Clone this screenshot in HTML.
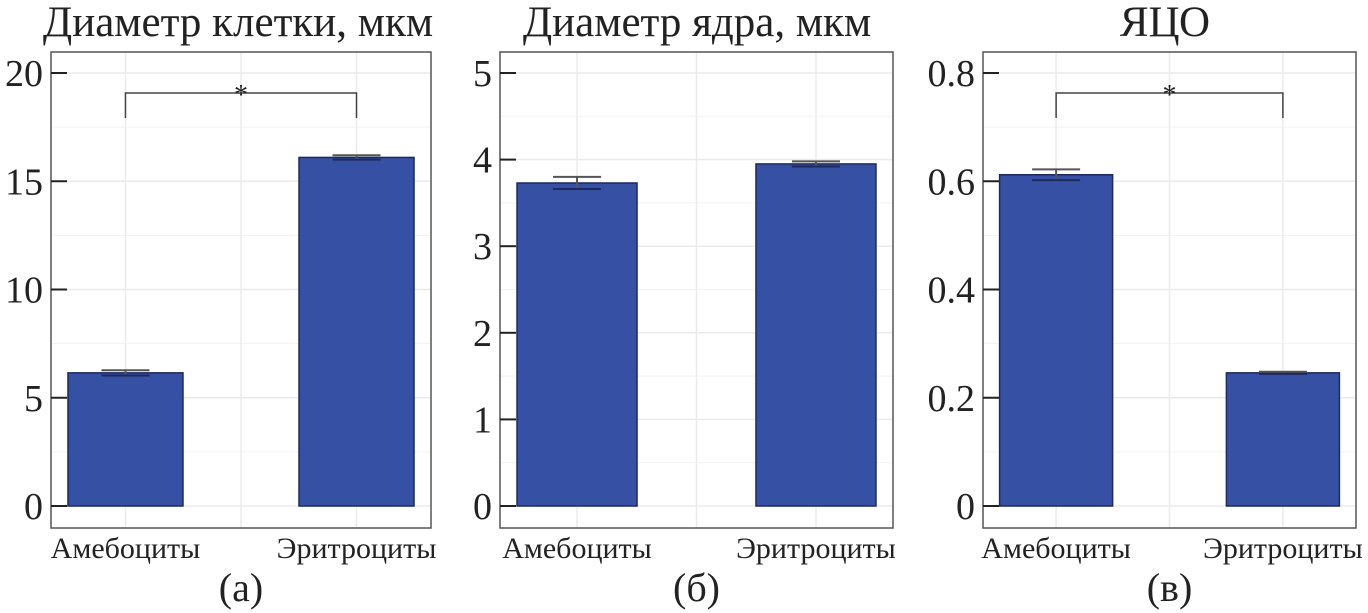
<!DOCTYPE html>
<html><head><meta charset="utf-8"><style>
body{margin:0;background:#fff;}
svg{display:block;font-family:"Liberation Serif","DejaVu Serif",serif;}
</style></head><body>
<svg id="c" width="1368" height="613"></svg>
<script>
const categories = ["Амебоциты","Эритроциты"];
const titles = ["Диаметр клетки, мкм","Диаметр ядра, мкм","ЯЦО"];
const panelLetters = ["(а)","(б)","(в)"];
const cellDiam = [6.15, 16.1];
const cellErr = [0.12, 0.1];
const nucDiam = [3.73, 3.95];
const nucErr = [0.07, 0.03];
const ratio = [0.612, 0.246];
const ratioErr = [0.01, 0.002];
const ticks1 = [0,5,10,15,20];
const ticks2 = [0,1,2,3,4,5];
const ticks3 = ["0","0.2","0.4","0.6","0.8"];
const sig = [true, false, true];

const NS="http://www.w3.org/2000/svg";
const svg=document.getElementById('c');
function mk(t,a,p){const e=document.createElementNS(NS,t);for(const k in a)e.setAttribute(k,a[k]);(p||svg).appendChild(e);return e;}

const panels=[
 {L:51,R:431,vals:cellDiam,errs:cellErr,ticks:ticks1,max:20,bw:115,tx:238},
 {L:500,R:893,vals:nucDiam,errs:nucErr,ticks:ticks2,max:5,bw:120,tx:697},
 {L:983,R:1356,vals:ratio,errs:ratioErr,ticks:ticks3.map(Number),labels:ticks3,max:0.8,bw:113,tx:1165}
];
const T=52,B=528,Y0=506,YT=73;
panels.forEach((p,i)=>{
 const g=mk('g',{});
 
 
 const y=v=>Y0-(v/p.max)*(Y0-YT);
 const W=p.R-p.L;
 const cx=k=>p.L+W*(k===0?0.196:0.804);
 for(let k=0;k<p.ticks.length;k++){
   const gl=mk('line',{x1:p.L,x2:p.R,y1:y(p.ticks[k]),y2:y(p.ticks[k]),stroke:'#ebebeb','stroke-width':1.5},g);
   
   if(k<p.ticks.length-1){const m=(p.ticks[k]+p.ticks[k+1])/2;mk('line',{x1:p.L,x2:p.R,y1:y(m),y2:y(m),stroke:'#f2f2f2','stroke-width':1},g);}
 }
 [cx(0),(cx(0)+cx(1))/2,cx(1)].forEach(x=>mk('line',{x1:x,x2:x,y1:T,y2:B,stroke:'#ebebeb','stroke-width':1.5},g));
 const fr=mk('rect',{x:p.L,y:T,width:W,height:B-T,fill:'none',stroke:'#555','stroke-width':1.5},g);
 
 p.ticks.forEach((t,k)=>{
   mk('line',{x1:p.L,x2:p.L+16,y1:y(t),y2:y(t),stroke:'#222','stroke-width':2},g);
   const tl=mk('text',{x:p.L-8,y:y(t)+13,'text-anchor':'end','font-size':38,fill:'#222'},g);
   tl.textContent=p.labels?p.labels[k]:t;
   
 });
 p.vals.forEach((v,k)=>{
   const b=mk('rect',{x:cx(k)-p.bw/2,y:y(v),width:p.bw,height:Y0-y(v),fill:'#3650a3',stroke:'#1c2a5e','stroke-width':1.5},g);
   
   
   const e=p.errs[k];
   const eg=mk('g',{stroke:'#555','stroke-width':2},g);
   
   mk('line',{x1:cx(k),x2:cx(k),y1:y(v+e),y2:y(v-e)},eg);
   mk('line',{x1:cx(k)-24,x2:cx(k)+24,y1:y(v+e),y2:y(v+e)},eg);
   mk('line',{x1:cx(k)-24,x2:cx(k)+24,y1:y(v-e),y2:y(v-e),stroke:'#1c2a5e'},eg);
   const cl=mk('text',{x:cx(k),y:558,'text-anchor':'middle','font-size':30,fill:'#222'},g);
   cl.textContent=categories[k];
   
 });
 if(sig[i]){
   const s=mk('g',{},g);
   
   mk('path',{d:`M${cx(0)} 118 V93 H${cx(1)} V118`,fill:'none',stroke:'#444','stroke-width':1.5},s);
   const st=mk('text',{x:(cx(0)+cx(1))/2,y:104,'text-anchor':'middle','font-size':28,fill:'#222'},s);
   st.textContent='*';
 }
 const tt=mk('text',{x:p.tx,y:36,'text-anchor':'middle','font-size':43,fill:'#222'},g);
 tt.textContent=titles[i];
 
 const pl=mk('text',{x:(p.L+p.R)/2,y:601,'text-anchor':'middle','font-size':40,fill:'#222'},g);
 pl.textContent=panelLetters[i];
 
});
</script>
</body></html>
